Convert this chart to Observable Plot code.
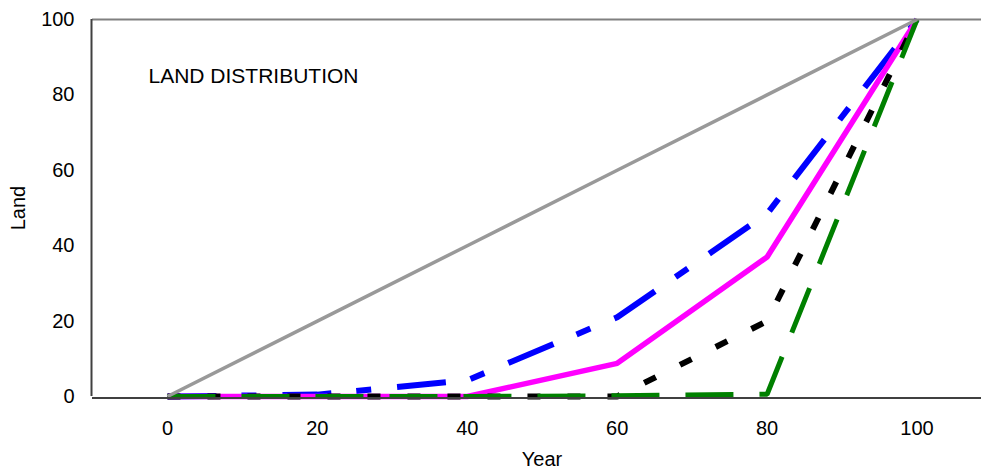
<!DOCTYPE html>
<html>
<head>
<meta charset="utf-8">
<script src="https://cdn.jsdelivr.net/npm/d3@7"></script>
<script src="https://cdn.jsdelivr.net/npm/@observablehq/plot@0.6"></script>
<style>
  html, body { margin: 0; padding: 0; background: #fff; }
  #chart { width: 981px; height: 473px; }
</style>
</head>
<body>
<div id="chart"></div>
<script>
// Data
const years = [0, 20, 40, 60, 80, 100];
const equality = [0, 20, 40, 60, 80, 100];
const blueSeries = [0, 0.5, 4.3, 21, 48.5, 100];
const magentaSeries = [0, 0, 0, 8.8, 37, 100];
const blackSeries = [0, 0, 0, 0, 20, 100];
const greenSeries = [0, 0, 0, 0.2, 0.6, 100];
const xTicks = [0, 20, 40, 60, 80, 100];
const yTicks = [0, 20, 40, 60, 80, 100];
const chartTitle = "LAND DISTRIBUTION";
const xLabel = "Year";
const yLabel = "Land";

const toRows = (vals) => years.map((x, i) => ({x, y: vals[i]}));

const font = "'Liberation Sans', Arial, Helvetica, sans-serif";

const plot = Plot.plot({
  width: 981,
  height: 473,
  marginLeft: 92,
  marginRight: 0,
  marginTop: 19,
  marginBottom: 77,
  style: {fontSize: "20px", fontFamily: font, color: "#000", background: "#fff", overflow: "visible"},
  x: {domain: [-10, 108.6], ticks: xTicks, tickSize: 0, tickPadding: 24, label: null},
  y: {domain: [0, 100], ticks: yTicks, tickSize: 0, tickPadding: 18, label: null},
  marks: [
    Plot.line(toRows(blueSeries), {x: "x", y: "y", stroke: "#0000ff", strokeWidth: 6, strokeDasharray: "49,25,15,26", strokeLinecap: "butt", strokeLinejoin: "miter"}),
    Plot.line(toRows(magentaSeries), {x: "x", y: "y", stroke: "#ff00ff", strokeWidth: 5.5, strokeLinecap: "butt", strokeLinejoin: "miter"}),
    Plot.line(toRows(blackSeries), {x: "x", y: "y", stroke: "#000000", strokeWidth: 6, strokeDasharray: "13,27", strokeLinecap: "butt", strokeLinejoin: "miter"}),
    Plot.line(toRows(greenSeries), {x: "x", y: "y", stroke: "#008000", strokeWidth: 5, strokeDasharray: "48,26", strokeLinecap: "butt", strokeLinejoin: "miter"}),
    Plot.line(toRows(equality), {x: "x", y: "y", stroke: "#999999", strokeWidth: 3.5, strokeLinecap: "butt"}),
    Plot.ruleY([100], {stroke: "#808080", strokeWidth: 2}),
    Plot.ruleY([0], {stroke: "#404040", strokeWidth: 2, dy: 1.5}),
    Plot.ruleX([-10], {stroke: "#404040", strokeWidth: 2, dx: -1}),
    Plot.text([chartTitle], {frameAnchor: "top-left", dx: 56, dy: 57, textAnchor: "start", lineAnchor: "middle", fontSize: 21, fill: "#000"}),
    Plot.text([xLabel], {frameAnchor: "bottom", dx: 5, dy: 63, textAnchor: "middle", lineAnchor: "middle", fontSize: 20, fill: "#000"}),
    Plot.text([yLabel], {frameAnchor: "left", dx: -74, textAnchor: "middle", lineAnchor: "middle", rotate: -90, fontSize: 20, fill: "#000"})
  ]
});
document.getElementById("chart").appendChild(plot);
</script>
</body>
</html>
